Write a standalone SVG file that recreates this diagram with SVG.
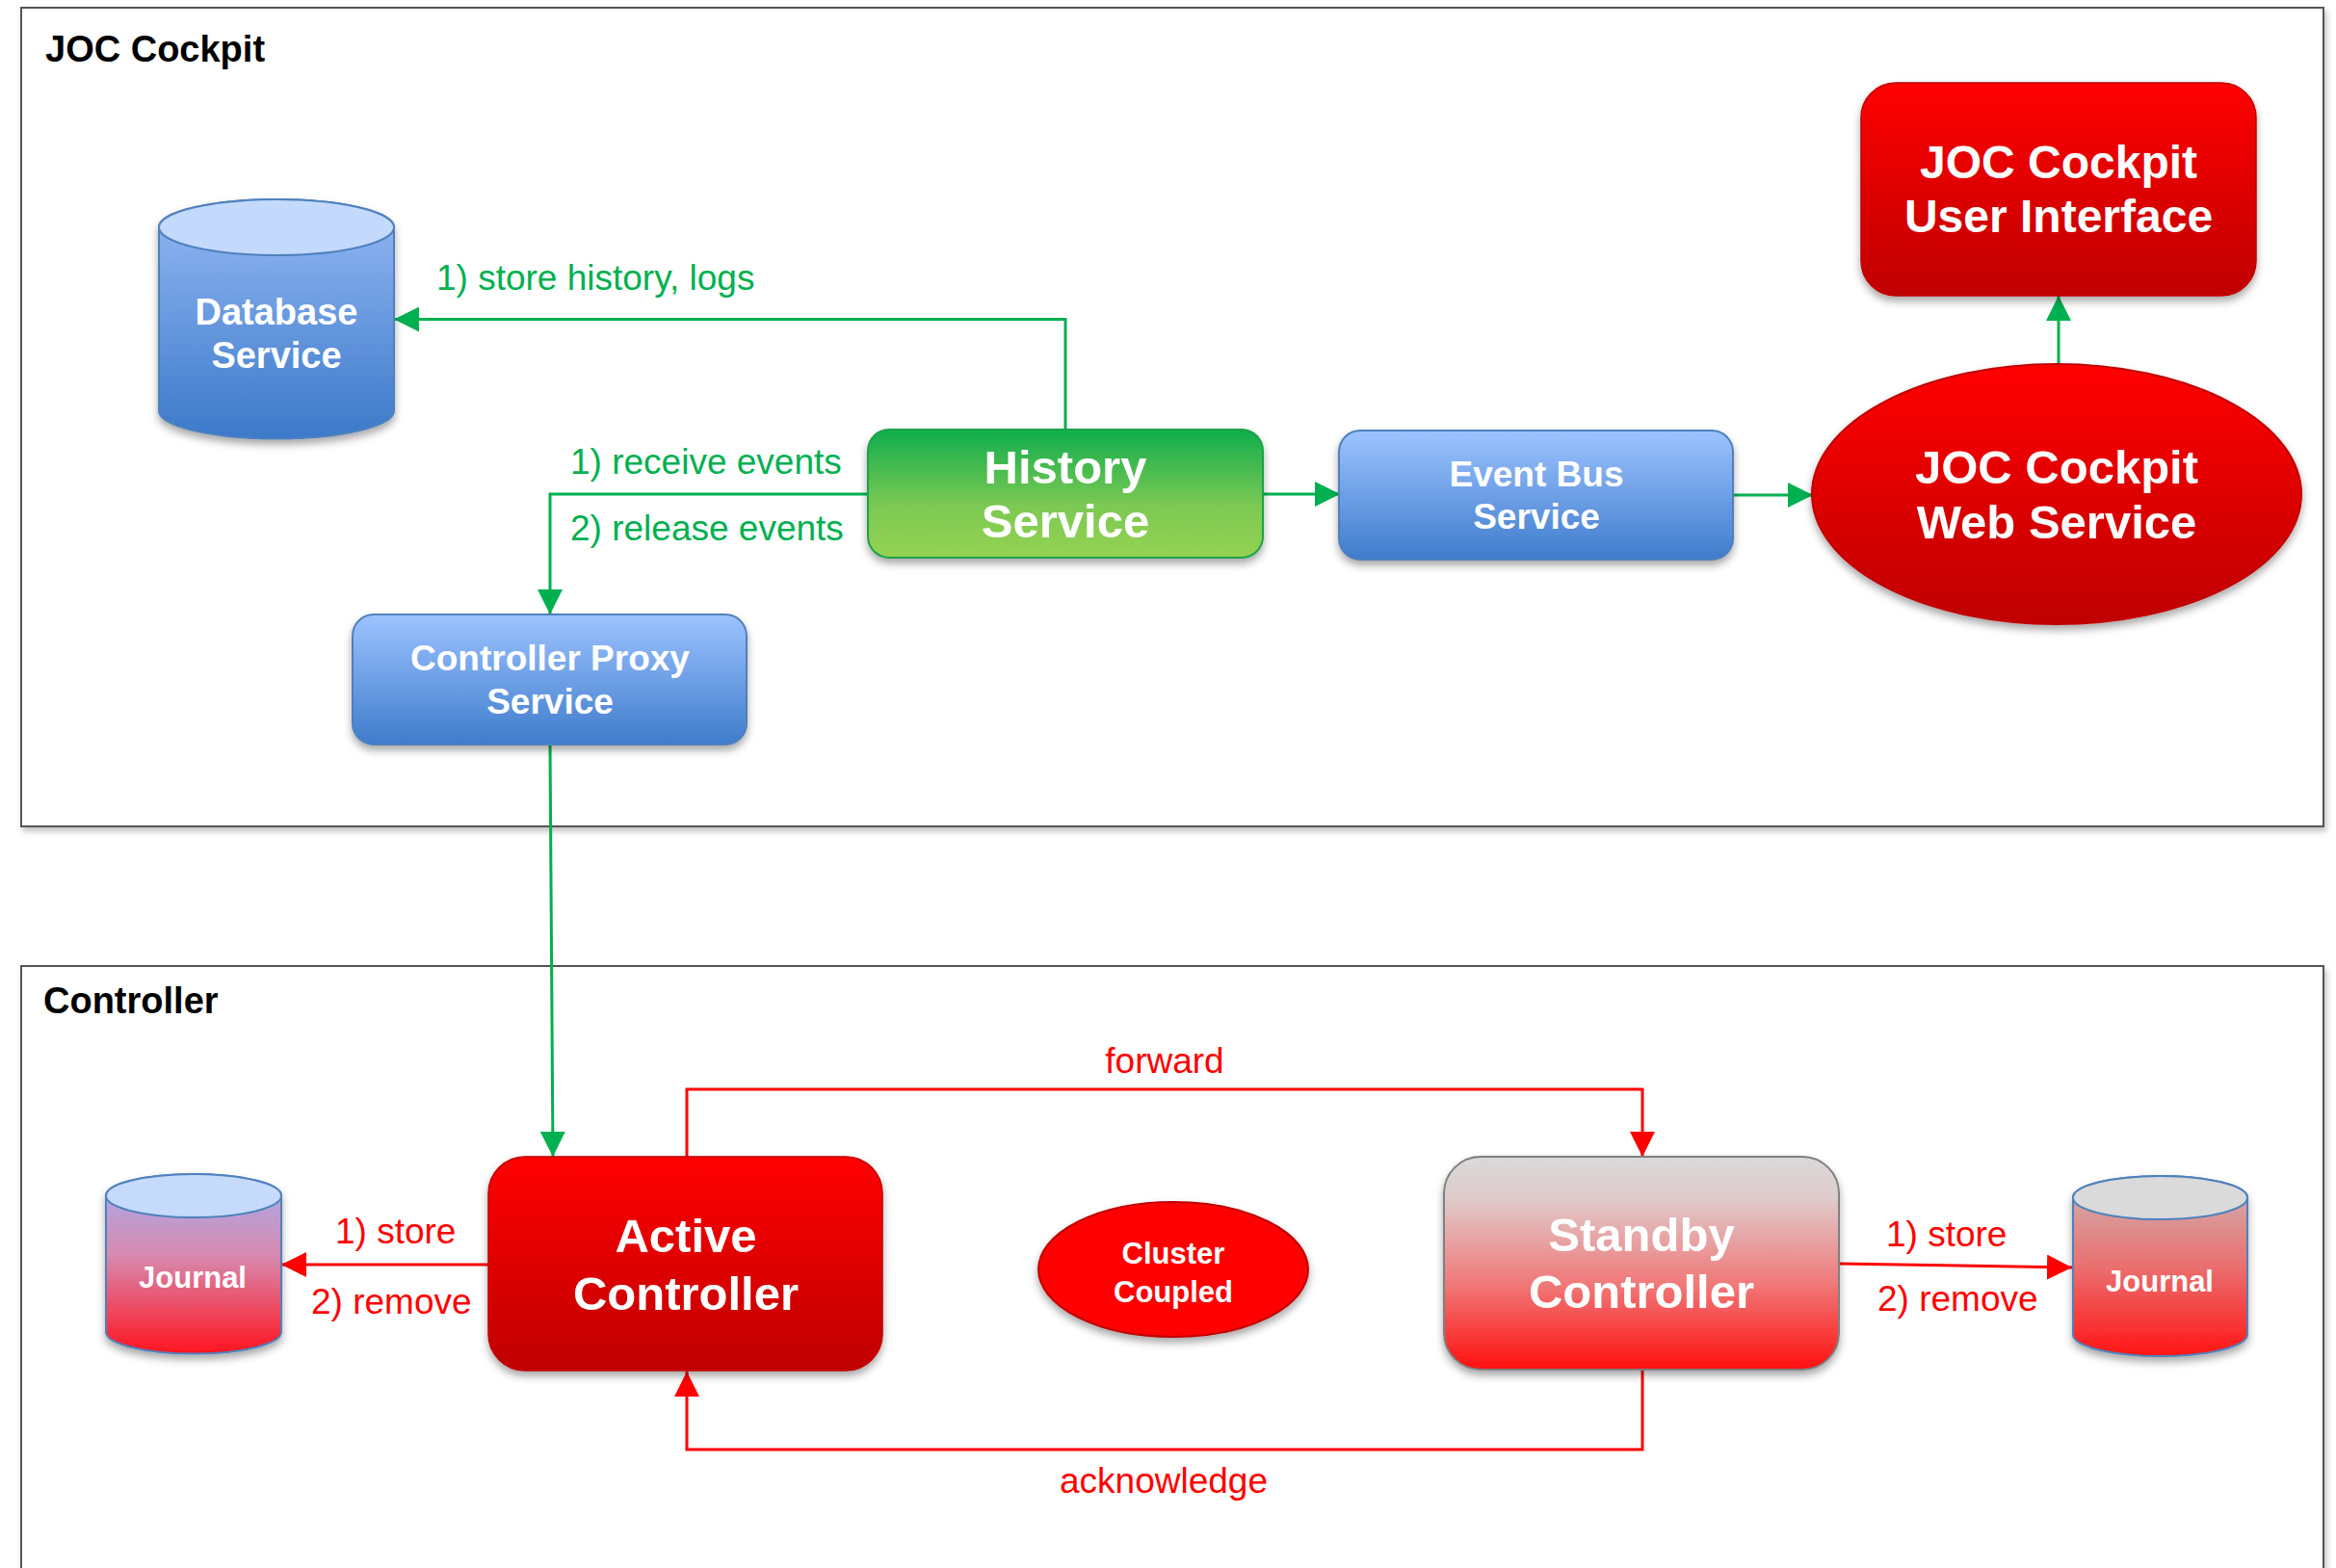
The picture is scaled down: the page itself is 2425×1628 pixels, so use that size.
<svg xmlns="http://www.w3.org/2000/svg" width="2425" height="1628" viewBox="0 0 2425 1628">
<defs>
<style>
text{font-family:"Liberation Sans",Arial,sans-serif}
.nt{fill:#fff;font-weight:bold;text-anchor:middle}
.big{font-size:49px}
.mid{font-size:37px}
.sm{font-size:31px}
.title{font-size:38px;font-weight:bold;fill:#000}
.gl{fill:#00b050;font-size:37px}
.rl{fill:#ff0000;font-size:37px}
.gline{fill:none;stroke:#00b050;stroke-width:3}
.rline{fill:none;stroke:#ff0000;stroke-width:3}
.frame{fill:#fff;stroke:#555;stroke-width:2}
</style>
<linearGradient id="gRed" x1="0" y1="0" x2="0" y2="1"><stop offset="0" stop-color="#ff0000"/><stop offset="1" stop-color="#bf0000"/></linearGradient>
<linearGradient id="gBlue" x1="0" y1="0" x2="0" y2="1"><stop offset="0" stop-color="#9dc3ff"/><stop offset="1" stop-color="#3f7ccc"/></linearGradient>
<linearGradient id="gDb" x1="0" y1="0" x2="0" y2="1"><stop offset="0" stop-color="#95b9f5"/><stop offset="1" stop-color="#3c79c9"/></linearGradient>
<linearGradient id="gGreen" x1="0" y1="0" x2="0" y2="1"><stop offset="0" stop-color="#10ad4e"/><stop offset="0.6" stop-color="#7cc952"/><stop offset="1" stop-color="#95d251"/></linearGradient>
<linearGradient id="gStandby" x1="0" y1="0" x2="0" y2="1"><stop offset="0" stop-color="#d9d9d9"/><stop offset="0.2" stop-color="#dfcaca"/><stop offset="0.6" stop-color="#f07878"/><stop offset="1" stop-color="#ff0f0f"/></linearGradient>
<linearGradient id="gJl" x1="0" y1="0" x2="0" y2="1"><stop offset="0" stop-color="#a4aef2"/><stop offset="0.45" stop-color="#d78ab0"/><stop offset="1" stop-color="#ff1520"/></linearGradient>
<linearGradient id="gJr" x1="0" y1="0" x2="0" y2="1"><stop offset="0" stop-color="#cfb4b4"/><stop offset="0.5" stop-color="#ea7070"/><stop offset="1" stop-color="#ff1515"/></linearGradient>
<filter id="sh" x="-10%" y="-10%" width="120%" height="130%"><feDropShadow dx="0" dy="5" stdDeviation="4" flood-color="#000" flood-opacity="0.35"/></filter>
<filter id="fsh" x="-5%" y="-5%" width="110%" height="110%"><feDropShadow dx="2" dy="4" stdDeviation="3" flood-color="#000" flood-opacity="0.25"/></filter>
<marker id="ag" viewBox="0 0 26 26" refX="26" refY="13" markerWidth="26" markerHeight="26" markerUnits="userSpaceOnUse" orient="auto"><path d="M0,0 L26,13 L0,26 z" fill="#00b050"/></marker>
<marker id="ar" viewBox="0 0 26 26" refX="26" refY="13" markerWidth="26" markerHeight="26" markerUnits="userSpaceOnUse" orient="auto"><path d="M0,0 L26,13 L0,26 z" fill="#ff0000"/></marker>
</defs>
<rect width="2425" height="1628" fill="#fff"/>

<g id="frame-joc">
<rect class="frame" x="22" y="8" width="2390" height="850" filter="url(#fsh)"/>
<text class="title" x="47" y="64">JOC Cockpit</text>
</g>
<g id="frame-controller">
<rect class="frame" x="22" y="1003" width="2390" height="700" filter="url(#fsh)"/>
<text class="title" x="45" y="1052">Controller</text>
</g>

<g id="connectors">
<path class="gline" d="M1106,446 V331.6 H409" marker-end="url(#ag)"/>
<path class="gline" d="M901,513 H571 V638" marker-end="url(#ag)"/>
<path class="gline" d="M1311,513 H1391" marker-end="url(#ag)"/>
<path class="gline" d="M1799,514 H1882" marker-end="url(#ag)"/>
<path class="gline" d="M2137,378 V307" marker-end="url(#ag)"/>
<path class="gline" d="M571,773 L574,1201" marker-end="url(#ag)"/>
<path class="rline" d="M713,1201 V1131 H1705 V1201" marker-end="url(#ar)"/>
<path class="rline" d="M1705,1422 V1505 H713 V1424" marker-end="url(#ar)"/>
<path class="rline" d="M507,1313 H292" marker-end="url(#ar)"/>
<path class="rline" d="M1909,1312 L2151,1316" marker-end="url(#ar)"/>
<text class="gl" x="453" y="301">1) store history, logs</text>
<text class="gl" x="592" y="492">1) receive events</text>
<text class="gl" x="592" y="561">2) release events</text>
<text class="rl" x="1209" y="1114" text-anchor="middle">forward</text>
<text class="rl" x="1208" y="1550" text-anchor="middle">acknowledge</text>
<text class="rl" x="348" y="1291">1) store</text>
<text class="rl" x="323" y="1364">2) remove</text>
<text class="rl" x="1958" y="1294">1) store</text>
<text class="rl" x="1949" y="1361">2) remove</text>
</g>

<g id="database-service">
<path d="M165,236 V426.6 A122,29 0 0 0 409,426.6 V236 A122,29 0 0 0 165,236 Z" fill="url(#gDb)" stroke="#4f81bd" stroke-width="2" filter="url(#sh)"/>
<ellipse cx="287" cy="236" rx="122" ry="29" fill="#c3dafd" stroke="#4f81bd" stroke-width="2"/>
<text class="nt" style="font-size:38px" x="287" y="337">Database</text>
<text class="nt" style="font-size:38px" x="287" y="382">Service</text>
</g>

<g id="history-service">
<rect x="901" y="446" width="410" height="133" rx="22" fill="url(#gGreen)" stroke="#1ea34a" stroke-width="2" filter="url(#sh)"/>
<text class="nt big" x="1106" y="502">History</text>
<text class="nt big" x="1106" y="558">Service</text>
</g>

<g id="eventbus-service">
<rect x="1390" y="447" width="409" height="134" rx="22" fill="url(#gBlue)" stroke="#4f81bd" stroke-width="2" filter="url(#sh)"/>
<text class="nt mid" x="1595" y="505">Event Bus</text>
<text class="nt mid" x="1595" y="549">Service</text>
</g>

<g id="web-service">
<ellipse cx="2135" cy="513" rx="254" ry="135" fill="url(#gRed)" stroke="#c00000" stroke-width="2" filter="url(#sh)"/>
<text class="nt big" x="2135" y="502">JOC Cockpit</text>
<text class="nt big" x="2135" y="559">Web Service</text>
</g>

<g id="user-interface">
<rect x="1932" y="86" width="410" height="221" rx="36" fill="url(#gRed)" stroke="#c00000" stroke-width="1.5" filter="url(#sh)"/>
<text class="nt" style="font-size:48px" x="2137" y="185">JOC Cockpit</text>
<text class="nt" style="font-size:48px" x="2137" y="241">User Interface</text>
</g>

<g id="controller-proxy-service">
<rect x="366" y="638" width="409" height="135" rx="22" fill="url(#gBlue)" stroke="#4f81bd" stroke-width="2" filter="url(#sh)"/>
<text class="nt mid" x="571" y="696">Controller Proxy</text>
<text class="nt mid" x="571" y="741">Service</text>
</g>

<g id="active-controller">
<rect x="507" y="1201" width="409" height="222" rx="38" fill="url(#gRed)" stroke="#c00000" stroke-width="1.5" filter="url(#sh)"/>
<text class="nt big" x="712" y="1300">Active</text>
<text class="nt big" x="712" y="1360">Controller</text>
</g>

<g id="cluster-coupled">
<ellipse cx="1218" cy="1318" rx="140" ry="70" fill="#ff0000" stroke="#c00000" stroke-width="2" filter="url(#sh)"/>
<text class="nt sm" x="1218" y="1312">Cluster</text>
<text class="nt sm" x="1218" y="1352">Coupled</text>
</g>

<g id="standby-controller">
<rect x="1499" y="1201" width="410" height="221" rx="38" fill="url(#gStandby)" stroke="#808080" stroke-width="2" filter="url(#sh)"/>
<text class="nt big" x="1704" y="1299">Standby</text>
<text class="nt big" x="1704" y="1358">Controller</text>
</g>

<g id="journal-active">
<path d="M110,1241.5 V1383 A91,22.5 0 0 0 292,1383 V1241.5 A91,22.5 0 0 0 110,1241.5 Z" fill="url(#gJl)" stroke="#4f81bd" stroke-width="2" filter="url(#sh)"/>
<ellipse cx="201" cy="1241.5" rx="91" ry="22.5" fill="#c6dafb" stroke="#4f81bd" stroke-width="2"/>
<text class="nt sm" x="200" y="1337">Journal</text>
</g>

<g id="journal-standby">
<path d="M2152,1243.5 V1385.5 A90.5,22.5 0 0 0 2333,1385.5 V1243.5 A90.5,22.5 0 0 0 2152,1243.5 Z" fill="url(#gJr)" stroke="#4f81bd" stroke-width="2" filter="url(#sh)"/>
<ellipse cx="2242.5" cy="1243.5" rx="90.5" ry="22.5" fill="#dadada" stroke="#4f81bd" stroke-width="2"/>
<text class="nt sm" x="2242" y="1341">Journal</text>
</g>
</svg>
